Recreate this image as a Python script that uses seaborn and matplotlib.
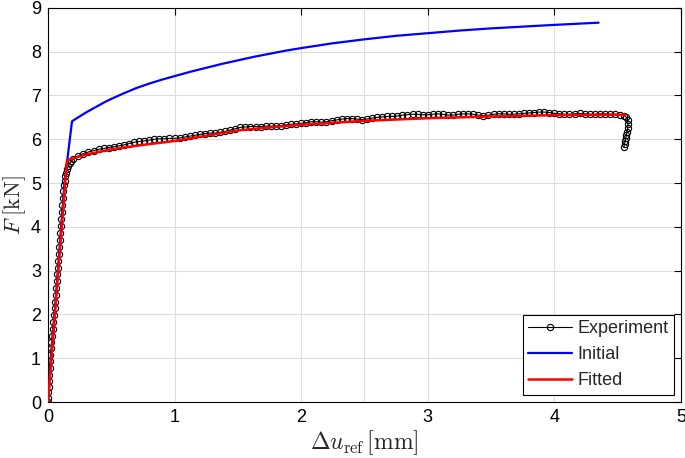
import pandas as pd
import seaborn as sns
import matplotlib.pyplot as plt

# Experiment (measured force vs displacement)
exp_x = [0.000, 0.002, 0.004, 0.006, 0.008, 0.010, 0.013, 0.016, 0.020, 0.024,
         0.028, 0.032, 0.037, 0.042, 0.047, 0.052, 0.057, 0.062, 0.066, 0.070,
         0.074, 0.078, 0.082, 0.086, 0.090, 0.094, 0.098, 0.102, 0.106, 0.110,
         0.114, 0.118, 0.122, 0.127, 0.132, 0.138, 0.145, 0.153, 0.162, 0.172,
         0.185, 0.20, 0.24, 0.28, 0.32, 0.36, 0.40, 0.44, 0.48, 0.52,
         0.56, 0.60, 0.64, 0.68, 0.72, 0.76, 0.80, 0.84, 0.88, 0.92,
         0.96, 1.00, 1.04, 1.08, 1.12, 1.16, 1.20, 1.24, 1.28, 1.32,
         1.36, 1.40, 1.44, 1.48, 1.52, 1.56, 1.60, 1.64, 1.68, 1.72,
         1.76, 1.80, 1.84, 1.88, 1.92, 1.96, 2.00, 2.04, 2.08, 2.12,
         2.16, 2.20, 2.24, 2.28, 2.32, 2.36, 2.40, 2.44, 2.48, 2.52,
         2.56, 2.60, 2.64, 2.68, 2.72, 2.76, 2.80, 2.84, 2.88, 2.92,
         2.96, 3.00, 3.04, 3.08, 3.12, 3.16, 3.20, 3.24, 3.28, 3.32,
         3.36, 3.40, 3.44, 3.48, 3.52, 3.56, 3.60, 3.64, 3.68, 3.72,
         3.76, 3.80, 3.84, 3.88, 3.92, 3.96, 4.00, 4.04, 4.08, 4.12,
         4.16, 4.20, 4.24, 4.28, 4.32, 4.36, 4.40, 4.44, 4.48, 4.52,
         4.55, 4.57, 4.58, 4.582, 4.58, 4.575, 4.57, 4.565, 4.56, 4.555,
         4.55]
exp_y = [0.00, 0.10, 0.22, 0.35, 0.48, 0.62, 0.78, 0.93, 1.08, 1.23,
         1.38, 1.52, 1.68, 1.83, 1.98, 2.14, 2.29, 2.44, 2.60, 2.76,
         2.92, 3.07, 3.22, 3.38, 3.54, 3.70, 3.86, 4.02, 4.18, 4.34,
         4.50, 4.66, 4.82, 4.95, 5.05, 5.15, 5.24, 5.32, 5.40, 5.46,
         5.51, 5.55, 5.62, 5.67, 5.71, 5.74, 5.77, 5.79, 5.81, 5.83,
         5.85, 5.87, 5.90, 5.93, 5.95, 5.96, 5.98, 6.00, 6.01, 6.01,
         6.02, 6.02, 6.03, 6.05, 6.07, 6.09, 6.11, 6.13, 6.14, 6.14,
         6.16, 6.18, 6.21, 6.24, 6.27, 6.28, 6.29, 6.29, 6.29, 6.30,
         6.30, 6.30, 6.31, 6.33, 6.34, 6.35, 6.36, 6.38, 6.40, 6.40,
         6.39, 6.40, 6.42, 6.44, 6.46, 6.47, 6.47, 6.46, 6.45, 6.46,
         6.48, 6.50, 6.51, 6.52, 6.52, 6.53, 6.55, 6.56, 6.57, 6.57,
         6.56, 6.56, 6.57, 6.58, 6.57, 6.55, 6.55, 6.57, 6.58, 6.58,
         6.57, 6.55, 6.54, 6.55, 6.57, 6.58, 6.58, 6.57, 6.57, 6.58,
         6.59, 6.60, 6.61, 6.62, 6.62, 6.61, 6.59, 6.58, 6.57, 6.57,
         6.58, 6.59, 6.58, 6.57, 6.57, 6.58, 6.58, 6.57, 6.57, 6.56,
         6.54, 6.50, 6.44, 6.35, 6.25, 6.17, 6.10, 6.03, 5.95, 5.88,
         5.82]

# Initial parameter set (simulation)
ini_x = [0.0, 0.135, 0.19, 0.25, 0.3, 0.35, 0.4, 0.45, 0.5, 0.6,
         0.7, 0.8, 0.9, 1.0, 1.125, 1.25, 1.375, 1.5, 1.625, 1.75,
         1.875, 2.0, 2.25, 2.5, 2.75, 3.0, 3.25, 3.5, 3.75, 4.0,
         4.35]
ini_y = [0.0, 5.10, 6.41, 6.52, 6.61, 6.69, 6.77, 6.85, 6.92, 7.05,
         7.17, 7.27, 7.36, 7.44, 7.54, 7.63, 7.72, 7.80, 7.88, 7.95,
         8.02, 8.08, 8.19, 8.28, 8.36, 8.42, 8.48, 8.53, 8.57, 8.61,
         8.66]

# Fitted parameter set (simulation)
fit_x = [0.0, 0.15, 0.3, 0.5, 0.75, 1.0, 1.25, 1.5, 1.75, 2.0,
         2.5, 3.0, 3.5, 4.0, 4.56]
fit_y = [0.0, 5.52, 5.65, 5.77, 5.87, 5.96, 6.08, 6.20, 6.27, 6.33,
         6.42, 6.48, 6.52, 6.55, 6.56]

x_ticks = [0, 1, 2, 3, 4, 5]
y_ticks = [0, 1, 2, 3, 4, 5, 6, 7, 8, 9]

exp_df = pd.DataFrame({"u": exp_x, "F": exp_y})
ini_df = pd.DataFrame({"u": ini_x, "F": ini_y})
fit_df = pd.DataFrame({"u": fit_x, "F": fit_y})

sns.set_style("whitegrid")
plt.rcParams["font.family"] = ["Liberation Sans", "DejaVu Sans"]
plt.rcParams["mathtext.fontset"] = "cm"

fig = plt.figure(figsize=(6.85, 4.58), dpi=100)
ax = fig.add_axes([0.070, 0.122, 0.924, 0.861])

sns.lineplot(data=exp_df, x="u", y="F", sort=False, estimator=None, ax=ax,
             color="black", linewidth=0.8, marker="o", markersize=4.5,
             markerfacecolor="none", markeredgecolor="black",
             markeredgewidth=0.8, label="Experiment", zorder=3)
sns.lineplot(data=ini_df, x="u", y="F", sort=False, estimator=None, ax=ax,
             color="blue", linewidth=1.6, label="Initial", zorder=4)
sns.lineplot(data=fit_df, x="u", y="F", sort=False, estimator=None, ax=ax,
             color="red", linewidth=1.8, label="Fitted", zorder=5)

ax.axvline(2.5, color="#dddddd", linewidth=0.8, zorder=0)

ax.set_xlim(0, 5)
ax.set_ylim(0, 9)
ax.set_xticks(x_ticks)
ax.set_yticks(y_ticks)
ax.grid(True, color="#dddddd", linewidth=0.8)
for s in ax.spines.values():
    s.set_color("black")
    s.set_linewidth(0.8)
ax.tick_params(direction="in", length=5, width=0.8, top=True, right=True,
               labelsize=13, colors="black", pad=5)

ax.set_xlabel(r"$\Delta u_{\mathrm{ref}}\,[\mathrm{mm}]$", fontsize=17)
ax.set_ylabel(r"$F\;[\mathrm{kN}]$", fontsize=16)
ax.xaxis.set_label_coords(0.5, -0.066)
ax.yaxis.set_label_coords(-0.031, 0.5)

leg = ax.legend(loc="lower right", fontsize=13, frameon=True, fancybox=False,
                handlelength=2.4, handletextpad=0.3, borderpad=0.3,
                labelspacing=0.5, borderaxespad=0.4)
leg.get_frame().set_edgecolor("black")
leg.get_frame().set_linewidth(0.8)
leg.get_frame().set_alpha(1)

fig.savefig("out.png", dpi=100)
